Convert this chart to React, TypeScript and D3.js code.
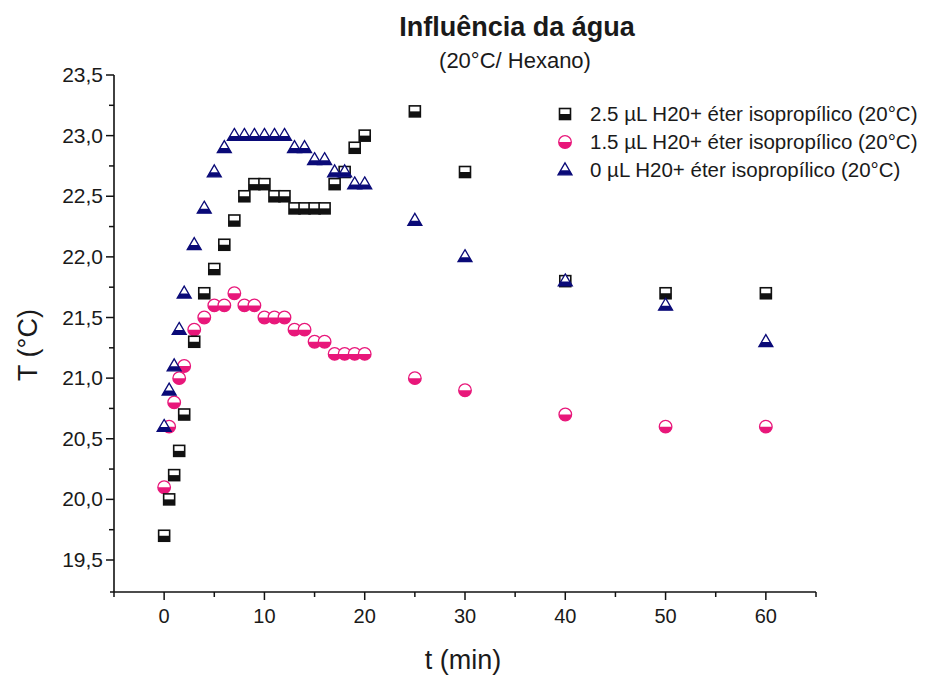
import React from "react";
import * as d3 from "d3";

const times = [0, 0.5, 1, 1.5, 2, 3, 4, 5, 6, 7, 8, 9, 10, 11, 12, 13, 14, 15, 16, 17, 18, 19, 20, 25, 30, 40, 50, 60];
const s25 = [19.7, 20.0, 20.2, 20.4, 20.7, 21.3, 21.7, 21.9, 22.1, 22.3, 22.5, 22.6, 22.6, 22.5, 22.5, 22.4, 22.4, 22.4, 22.4, 22.6, 22.7, 22.9, 23.0, 23.2, 22.7, 21.8, 21.7, 21.7];
const s15 = [20.1, 20.6, 20.8, 21.0, 21.1, 21.4, 21.5, 21.6, 21.6, 21.7, 21.6, 21.6, 21.5, 21.5, 21.5, 21.4, 21.4, 21.3, 21.3, 21.2, 21.2, 21.2, 21.2, 21.0, 20.9, 20.7, 20.6, 20.6];
const s0 = [20.6, 20.9, 21.1, 21.4, 21.7, 22.1, 22.4, 22.7, 22.9, 23.0, 23.0, 23.0, 23.0, 23.0, 23.0, 22.9, 22.9, 22.8, 22.8, 22.7, 22.7, 22.6, 22.6, 22.3, 22.0, 21.8, 21.6, 21.3];
const seriesNames = [
  "2.5 µL H20+ éter isopropílico (20°C)",
  "1.5 µL H20+ éter isopropílico (20°C)",
  "0 µL H20+ éter isopropílico (20°C)",
];
const xTicks = [0, 10, 20, 30, 40, 50, 60];
const yTicks = [19.5, 20.0, 20.5, 21.0, 21.5, 22.0, 22.5, 23.0, 23.5];

const FONT = "'Liberation Sans', Arial, sans-serif";
const TXT = "#1a1a1a";
const PINK = "#e8177a";
const NAVY = "#0a0a78";

function Square({ x, y }: { x: number; y: number }) {
  const s = 11;
  return (
    <g>
      <rect x={x - s / 2} y={y - s / 2} width={s} height={s} fill="#fff" stroke="#111" strokeWidth={1.6} />
      <rect x={x - s / 2} y={y} width={s} height={s / 2} fill="#111" />
    </g>
  );
}

function Circle({ x, y }: { x: number; y: number }) {
  const r = 6.3;
  return (
    <g>
      <circle cx={x} cy={y} r={r} fill="#fff" />
      <path d={`M${x - r},${y} A${r},${r} 0 0,0 ${x + r},${y} Z`} fill={PINK} />
      <circle cx={x} cy={y} r={r} fill="none" stroke={PINK} strokeWidth={1.3} />
    </g>
  );
}

function Triangle({ x, y }: { x: number; y: number }) {
  const w = 14;
  const h = 12;
  const top = y - h * 0.6;
  const bot = y + h * 0.4;
  const midY = y + 0.3;
  const frac = (midY - top) / h;
  return (
    <g>
      <path d={`M${x},${top} L${x + w / 2},${bot} L${x - w / 2},${bot} Z`} fill="#fff" />
      <path
        d={`M${x - (w / 2) * frac},${midY} L${x + (w / 2) * frac},${midY} L${x + w / 2},${bot} L${x - w / 2},${bot} Z`}
        fill={NAVY}
      />
      <path d={`M${x},${top} L${x + w / 2},${bot} L${x - w / 2},${bot} Z`} fill="none" stroke={NAVY} strokeWidth={1.3} />
    </g>
  );
}

export default function App() {
  const W = 938;
  const H = 677;
  const x = d3.scaleLinear().domain([-5, 65]).range([114, 816]);
  const y = d3.scaleLinear().domain([19.5, 23.5]).range([560, 75]);
  const yBottom = 592;
  const xMinor = d3.range(-5, 66, 5);
  const yMinor = d3.range(19.75, 23.5, 0.5);
  const fmt = (v: number) => v.toFixed(1).replace(".", ",");

  return (
    <svg width={W} height={H} style={{ display: "block", position: "absolute", left: 0, top: 0 }} fontFamily={FONT}>
      <rect width={W} height={H} fill="#fff" />
      <text x={517} y={36} textAnchor="middle" fontSize={27} fontWeight="bold" fill={TXT}>
        Influência da água
      </text>
      <text x={515} y={68} textAnchor="middle" fontSize={22} fill={TXT}>
        (20°C/ Hexano)
      </text>

      <line x1={110} x2={816} y1={yBottom} y2={yBottom} stroke="#111" strokeWidth={1.6} />
      <line x1={114} x2={114} y1={75} y2={yBottom} stroke="#111" strokeWidth={1.6} />
      {xMinor.map((v) => (
        <line key={"xm" + v} x1={x(v)} x2={x(v)} y1={yBottom} y2={yBottom + (v % 10 === 0 ? 8 : 5)} stroke="#111" strokeWidth={1.5} />
      ))}
      {xTicks.map((v) => (
        <text key={"xt" + v} x={x(v)} y={623} textAnchor="middle" fontSize={20} fill={TXT}>
          {v}
        </text>
      ))}
      {yTicks.map((v) => (
        <g key={"yt" + v}>
          <line x1={114 - 8} x2={114} y1={y(v)} y2={y(v)} stroke="#111" strokeWidth={1.5} />
          <text x={103} y={y(v) + 7} textAnchor="end" fontSize={21} fill={TXT}>
            {fmt(v)}
          </text>
        </g>
      ))}
      {yMinor.map((v) => (
        <line key={"ym" + v} x1={114 - 5} x2={114} y1={y(v)} y2={y(v)} stroke="#111" strokeWidth={1.5} />
      ))}
      <text x={463} y={669} textAnchor="middle" fontSize={27} fill={TXT}>
        t (min)
      </text>
      <text transform={`translate(37,345) rotate(-90)`} textAnchor="middle" fontSize={27} fill={TXT}>
        T (°C)
      </text>

      {times.map((t, i) => (
        <Circle key={"c" + i} x={x(t)} y={y(s15[i])} />
      ))}
      {times.map((t, i) => (
        <Square key={"s" + i} x={x(t)} y={y(s25[i])} />
      ))}
      {times.map((t, i) => (
        <Triangle key={"t" + i} x={x(t)} y={y(s0[i])} />
      ))}

      {seriesNames.map((name, i) => {
        const ly = 114 + i * 28;
        return (
          <g key={"lg" + i}>
            {i === 0 && <Square x={565} y={ly} />}
            {i === 1 && <Circle x={565} y={ly} />}
            {i === 2 && <Triangle x={565} y={ly} />}
            <text x={590} y={ly + 7} fontSize={20.5} fill={TXT}>
              {name}
            </text>
          </g>
        );
      })}
    </svg>
  );
}
